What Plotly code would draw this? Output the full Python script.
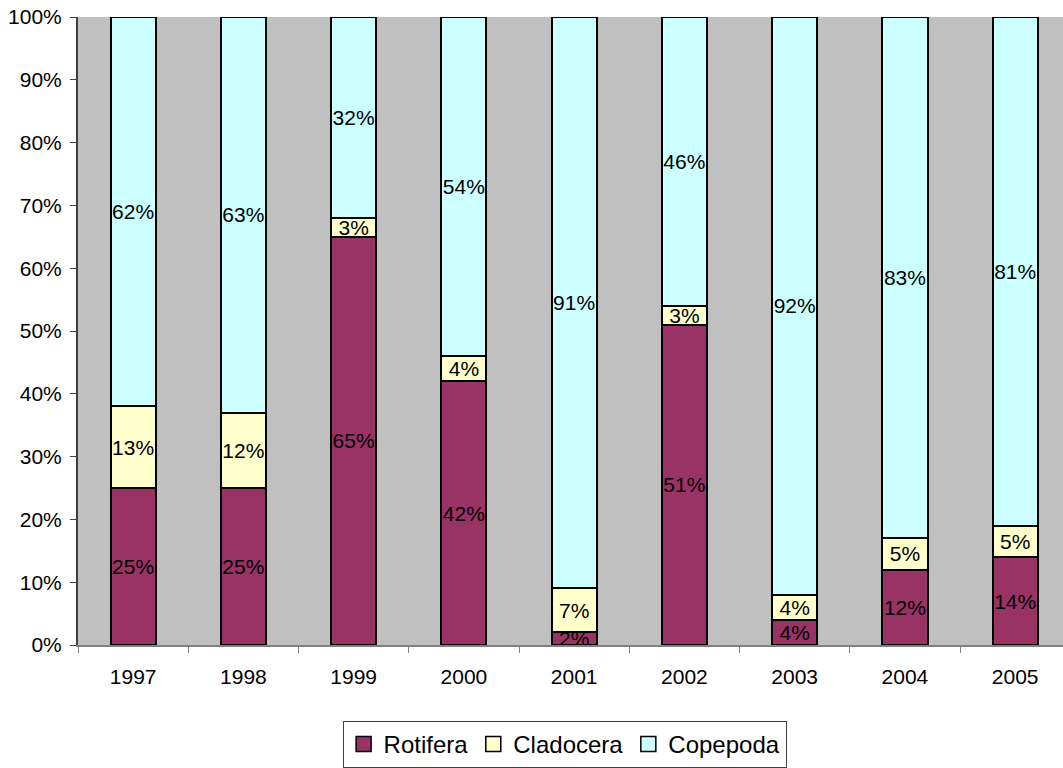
import plotly.graph_objects as go

years = ["1997", "1998", "1999", "2000", "2001", "2002", "2003", "2004", "2005"]
rotifera = [25, 25, 65, 42, 2, 51, 4, 12, 14]
cladocera = [13, 12, 3, 4, 7, 3, 4, 5, 5]
copepoda = [62, 63, 32, 54, 91, 46, 92, 83, 81]
y_ticks = [0, 10, 20, 30, 40, 50, 60, 70, 80, 90, 100]

series = [
    ("Rotifera", rotifera, "#993366"),
    ("Cladocera", cladocera, "#FFFFCC"),
    ("Copepoda", copepoda, "#CCFFFF"),
]

FONT = "Liberation Sans, Arial, sans-serif"
fig = go.Figure()
for name, vals, color in series:
    fig.add_trace(go.Bar(
        name=name, x=years, y=vals,
        text=[f"{v}%" for v in vals],
        textposition="inside", insidetextanchor="middle",
        constraintext="none", textangle=0,
        textfont=dict(family=FONT, size=21, color="black"),
        marker=dict(color=color, line=dict(color="black", width=2)),
        width=0.41, showlegend=False,
    ))
# legend entries drawn as square markers
for name, vals, color in series:
    fig.add_trace(go.Scatter(
        name=name, x=[years[0]], y=[None], mode="markers",
        marker=dict(symbol="square", size=15, color=color,
                    line=dict(color="black", width=1.5)),
        showlegend=True, hoverinfo="skip",
    ))

fig.update_layout(
    barmode="stack",
    width=1063, height=768,
    margin=dict(l=78, r=0, t=17, b=121),
    plot_bgcolor="#C0C0C0", paper_bgcolor="white",
    font=dict(family=FONT, size=21, color="black"),
    showlegend=True,
    legend=dict(
        orientation="h", x=0.494, xanchor="center", y=-0.121, yanchor="top",
        bordercolor="#404040", borderwidth=1, font=dict(size=24),
        traceorder="normal", itemwidth=30, tracegroupgap=0,
    ),
    xaxis=dict(
        type="category", range=[-0.5, 8.434],
        showline=True, linecolor="#808080", linewidth=2,
        ticks="outside", tickson="boundaries", ticklen=6, tickcolor="#808080",
        showgrid=False, tickfont=dict(size=21), ticklabelstandoff=12,
    ),
    yaxis=dict(
        range=[0, 100], tickvals=y_ticks, ticktext=[f"{t}%" for t in y_ticks],
        showline=True, linecolor="#404040", linewidth=2,
        ticks="outside", ticklen=6, tickcolor="#404040",
        showgrid=False, zeroline=False, tickfont=dict(size=21),
        ticklabelstandoff=4,
    ),
)
fig.write_html("out.html")
